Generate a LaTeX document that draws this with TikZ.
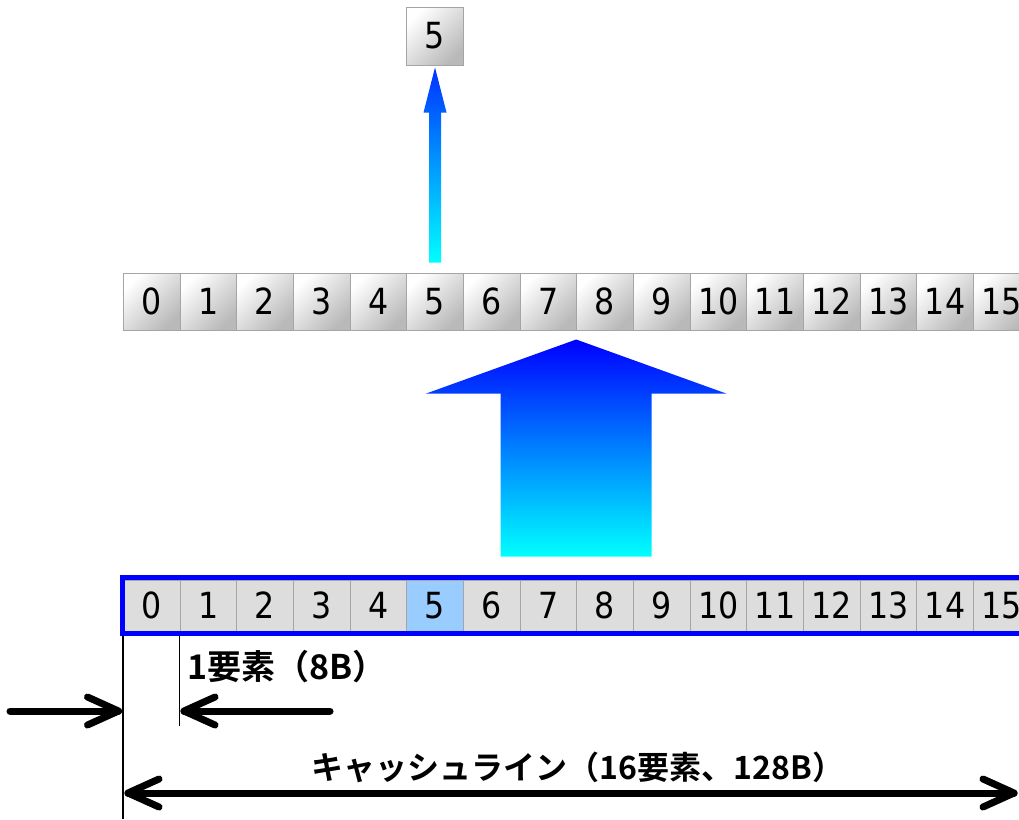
\documentclass[tikz,border=0pt]{standalone}
\usepackage{fontspec}
\newfontfamily\cellfont{DejaVu Sans}[FakeStretch=0.88]
\newfontfamily\jpfont{Noto Sans CJK JP}[BoldFont={* Bold}]
\definecolor{cellborder}{RGB}{165,165,165}
\definecolor{celldark}{RGB}{185,185,185}
\definecolor{plaincell}{RGB}{221,221,221}
\definecolor{hicell}{RGB}{153,204,255}
\definecolor{arrowblue}{RGB}{0,0,255}
\definecolor{arrowcyan}{RGB}{0,255,255}
\definecolor{smallblue}{RGB}{0,50,255}
\definecolor{rowblue}{RGB}{0,0,255}
\begin{document}
\begin{tikzpicture}[x=1pt,y=-1pt,
  cellbase/.style={draw=cellborder, line width=1pt, minimum width=56.67pt, inner sep=0pt,
    font=\cellfont\fontsize{36}{36}\selectfont},
  gradcell/.style={cellbase, minimum height=57pt, top color=white, bottom color=celldark, shading angle=45},
  plaincellbox/.style={cellbase, minimum height=51pt, fill=plaincell},
  hicellbox/.style={cellbase, minimum height=51pt, fill=hicell},
  thickarrow/.style={line width=7pt, line cap=round, line join=round, black},
  thinline/.style={line width=1.5pt, black},
  jplabel/.style={font=\jpfont\bfseries\fontsize{32}{32}\selectfont, inner sep=0pt}]
\useasboundingbox (0,0) rectangle (1019,819);
\clip (0,0) rectangle (1019,819);
% middle row
\foreach \i in {0,...,15} {
  \node[gradcell] (m\i) at (151.67+56.67*\i, 301.5) {\i};
}
% top box
\node[gradcell, minimum height=58pt] (top5) at (435,36) {5};
% small arrow
\coordinate (sb) at ([yshift=10pt]m5.north);
\coordinate (st) at ([yshift=-2pt]top5.south);
\shade[top color=smallblue, bottom color=arrowcyan]
  ([xshift=-6pt]sb) -- ([xshift=-6pt,yshift=150pt]sb) -- ([xshift=-11.5pt,yshift=150pt]sb)
  -- (st) -- ([xshift=11.5pt,yshift=150pt]sb) -- ([xshift=6pt,yshift=150pt]sb) -- ([xshift=6pt]sb) -- cycle;
% bottom row
\foreach \i in {0,...,15} {
  \ifnum\i=5
    \node[hicellbox] (b\i) at (151.67+56.67*\i, 605.5) {\i};
  \else
    \node[plaincellbox] (b\i) at (151.67+56.67*\i, 605.5) {\i};
  \fi
}
\draw[rowblue, line width=5pt] (122.5,577.5) rectangle (1045,633.5);
% big arrow
\coordinate (bt) at ([yshift=-9pt]m8.south west);
\shade[top color=arrowblue, bottom color=arrowcyan]
  (bt) -- ([xshift=150pt,yshift=-54pt]bt) -- ([xshift=75.5pt,yshift=-54pt]bt)
  -- ([xshift=75.5pt,yshift=-217pt]bt) -- ([xshift=-75.5pt,yshift=-217pt]bt)
  -- ([xshift=-75.5pt,yshift=-54pt]bt) -- ([xshift=-150pt,yshift=-54pt]bt) -- cycle;
% dimension lines
\coordinate (v0a) at (b0.south west |- 0,636);
\coordinate (v0b) at (b0.south west |- 0,819);
\coordinate (v1a) at (b1.south west |- 0,636);
\coordinate (v1b) at (b1.south west |- 0,726);
\draw[thinline] (v0a) -- (v0b);
\draw[thinline] (v1a) -- (v1b);
% left arrow pointing right
\coordinate (la) at (10,711);
\coordinate (lt) at (118.5,711);
\draw[thickarrow] (la) -- (lt);
\draw[thickarrow] ([shift={(-31,-14)}]lt) -- (lt) -- ([shift={(-31,14)}]lt);
% arrow pointing left
\coordinate (ra) at (330,711);
\coordinate (rt) at (184,711);
\draw[thickarrow] (ra) -- (rt);
\draw[thickarrow] ([shift={(31,-14)}]rt) -- (rt) -- ([shift={(31,14)}]rt);
% bottom double arrow
\coordinate (dl) at (128,793);
\coordinate (dr) at (1014,793);
\draw[thickarrow] (dl) -- (dr);
\draw[thickarrow] ([shift={(31,-14)}]dl) -- (dl) -- ([shift={(31,14)}]dl);
\draw[thickarrow] ([shift={(-31,-14)}]dr) -- (dr) -- ([shift={(-31,14)}]dr);
% labels
\node[jplabel, anchor=west, font=\jpfont\bfseries\fontsize{34}{34}\selectfont] (lab1) at (187,667) {1要素（8B）};
\node[jplabel] (lab2) at (578,767) {キャッシュライン（16要素、128B）};
\end{tikzpicture}
\end{document}
